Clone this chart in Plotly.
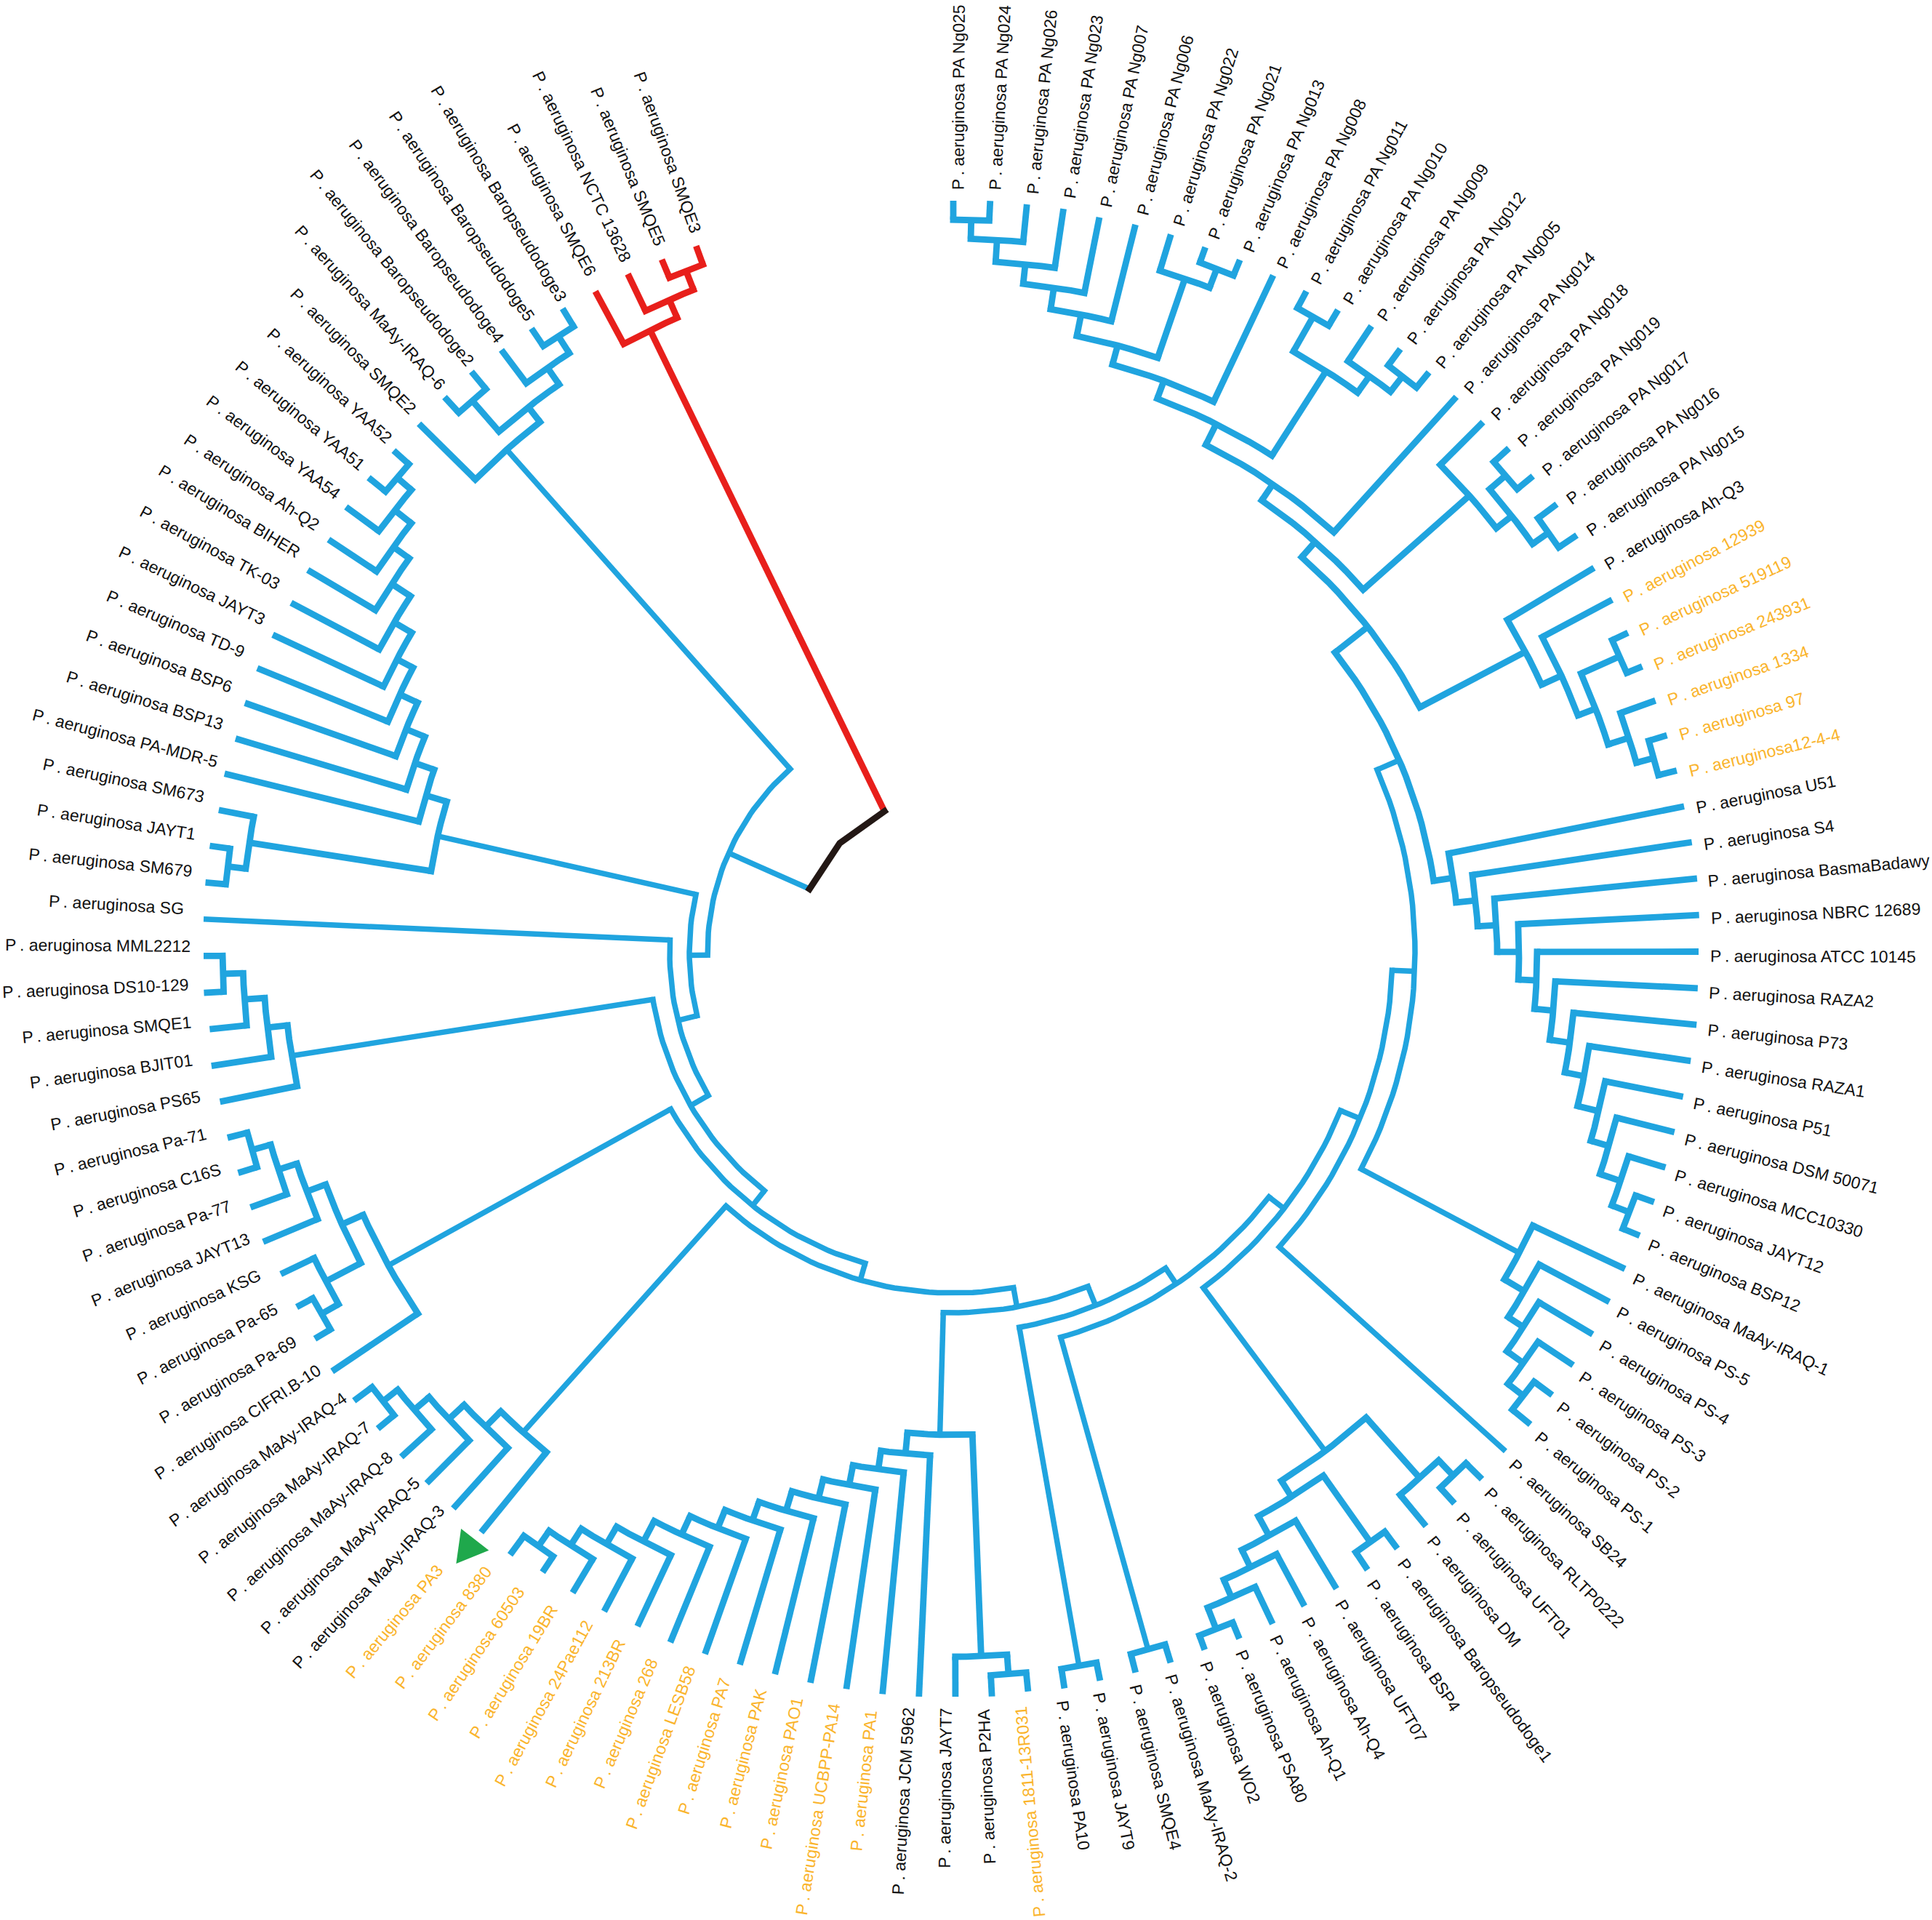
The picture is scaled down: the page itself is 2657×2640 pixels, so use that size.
import math
import plotly.graph_objects as go

CENTER_X = 1311
CENTER_Y = 1310
START_ANGLE = -90.0
TIP_STEP = 340.0 / 121

TIP_KEYS = [
    "PA Ng025", "PA Ng024", "PA Ng026", "PA Ng023", "PA Ng007", "PA Ng006", "PA Ng022", "PA Ng021",
    "PA Ng013", "PA Ng008", "PA Ng011", "PA Ng010", "PA Ng009", "PA Ng012", "PA Ng005", "PA Ng014",
    "PA Ng018", "PA Ng019", "PA Ng017", "PA Ng016", "PA Ng015", "Ah-Q3", "12939", "519119", "243931",
    "1334", "97", "12-4-4", "U51", "S4", "BasmaBadawy", "NBRC 12689", "ATCC 10145", "RAZA2", "P73",
    "RAZA1", "P51", "DSM 50071", "MCC10330", "JAYT12", "BSP12", "MaAy-IRAQ-1", "PS-5", "PS-4", "PS-3",
    "PS-2", "PS-1", "SB24", "RLTP0222", "UFT01", "DM", "Baropseudodoge1", "BSP4", "UFT07", "Ah-Q4",
    "Ah-Q1", "PSA80", "WO2", "MaAy-IRAQ-2", "SMQE4", "JAYT9", "PA10", "1811-13R031", "P2HA", "JAYT7",
    "JCM 5962", "PA1", "UCBPP-PA14", "PAO1", "PAK", "PA7", "LESB58", "268", "213BR", "24Pae112", "19BR",
    "60503", "8380", "PA3", "MaAy-IRAQ-3", "MaAy-IRAQ-5", "MaAy-IRAQ-8", "MaAy-IRAQ-7", "MaAy-IRAQ-4",
    "CIFRI.B-10", "Pa-69", "Pa-65", "KSG", "JAYT13", "Pa-77", "C16S", "Pa-71", "PS65", "BJIT01", "SMQE1",
    "DS10-129", "MML2212", "SG", "SM679", "JAYT1", "SM673", "PA-MDR-5", "BSP13", "BSP6", "TD-9", "JAYT3",
    "TK-03", "BIHER", "Ah-Q2", "YAA54", "YAA51", "YAA52", "SMQE2", "MaAy-IRAQ-6", "Baropseudodoge2",
    "Baropseudodoge4", "Baropseudodoge5", "Baropseudodoge3", "SMQE6", "NCTC 13628", "SMQE5", "SMQE3",
]
TIP_RADII = [
    1034, 1035, 1034, 1034, 1031, 1032, 1032, 1030, 1031, 1030, 1031, 1030, 1036, 1033, 1032, 1031,
    1031, 1032, 1032, 1034, 1032, 1028, 1028, 1027, 1026, 1026, 1026, 1026, 1025, 1027, 1028, 1027,
    1025, 1025, 1027, 1025, 1023, 1022, 1023, 1023, 1021, 1021, 1022, 1024, 1024, 1024, 1025, 1023,
    1026, 1024, 1022, 1022, 1022, 1021, 1020, 1022, 1022, 1019, 1021, 1021, 1021, 1023, 1021, 1024,
    1023, 1024, 1024, 1023, 1023, 1022, 1022, 1023, 1025, 1023, 1025, 1024, 1022, 1028, 1028, 1028,
    1028, 1028, 1027, 1029, 1030, 1026, 1026, 1025, 1029, 1028, 1029, 1030, 1029, 1032, 1028, 1032,
    1031, 1032, 1033, 1033, 1029, 1032, 1030, 1033, 1034, 1033, 1030, 1032, 1030, 1036, 1036, 1034,
    1034, 1036, 1038, 1036, 1036, 1036, 1034, 1035, 1034, 1034,
]
# Distance from a tip to the near end of its label.
LABEL_GAPS = [
    14, 14, 14, 14, 14, 14, 14, 14, 14, 14, 14, 14, 14, 14, 14, 14,
    14, 14, 14, 14, 14, 14, 15, 15, 15, 15, 15, 15, 15, 15, 13, 15,
    15, 15, 15, 15, 15, 15, 15, 15, 15, 15, 15, 15, 15, 15, 15, 15,
    15, 15, 15, 15, 15, 15, 15, 15, 15, 15, 15, 15, 15, 15, 18, 15,
    15, 14, 22, 20, 22, 22, 22, 22, 30, 26, 21, 28, 34, 32, 71, 9,
    5, 8, 5, 5, 11, 23, 24, 24, 15, 25, 21, 27, 24, 23, 24, 19,
    17, 27, 18, 21, 22, 12, 21, 23, 23, 18, 25, 21, 21, 16, 15, 13,
    16, 10, 8, 9, 10, 9, 22, 16, 18, 17,
]
YELLOW_TIPS = [
    "12939", "519119", "243931", "1334", "97", "12-4-4", "1811-13R031", "PA1", "UCBPP-PA14", "PAO1",
    "PAK", "PA7", "LESB58", "268", "213BR", "24Pae112", "19BR", "60503", "8380", "PA3",
]

# Tree: (node radius, first child, second child); a string is a tip.
NG_LOWER = (812,
    (838, (865, (895, (925, (952, (982, (1008, "PA Ng025", "PA Ng024"), "PA Ng026"), "PA Ng023"), "PA Ng007"), "PA Ng006"),
           (980, "PA Ng022", (1008, "PA Ng021", "PA Ng013"))), "PA Ng008"),
    (950, (1005, "PA Ng011", "PA Ng010"), (978, "PA Ng009", (1005, "PA Ng012", "PA Ng005"))))
NG_CLADE = (753, (780, NG_LOWER, "PA Ng014"),
    (948, "PA Ng018", (975, (1004, "PA Ng019", "PA Ng017"), (1002, "PA Ng016", "PA Ng015"))))
YELLOW_CLADE = (889, "Ah-Q3", (919, "12939", (945, (1003, "519119", "243931"), (975, "1334", (1000, "97", "12-4-4")))))
U51_CLADE = (695, "U51", (722, "S4", (748, "BasmaBadawy", (778, "NBRC 12689", (803, "ATCC 10145", (829, "RAZA2",
    (857, "P73", (884, "RAZA1", (914, "P51", (940, "DSM 50071", (970, "MCC10330", (996, "JAYT12", "BSP12"))))))))))))
PS_CLADE = (881, "MaAy-IRAQ-1", (913, "PS-5", (938, "PS-4", (966, "PS-3", (993, "PS-2", "PS-1")))))
UPPER_RIGHT = (604, (635, (668, (725, NG_CLADE, YELLOW_CLADE), U51_CLADE), PS_CLADE), "SB24")
Q_CLADE = (855, (966, (995, "RLTP0222", "UFT01"), "DM"),
    (881, (993, "Baropseudodoge1", "BSP4"),
     (912, "UFT07", (939, "Ah-Q4", (966, "Ah-Q1", (998, "PSA80", "WO2"))))))
RIGHT_SIDE = (523, (549, (575, UPPER_RIGHT, Q_CLADE), (995, "MaAy-IRAQ-2", "SMQE4")), (996, "JAYT9", "PA10"))
JCM_CLADE = (692, "JCM 5962", (718, "PA1", (746, "UCBPP-PA14", (773, "PAO1", (801, "PAK", (828, "PA7", (855, "LESB58",
    (883, "268", (915, "213BR", (943, "24Pae112", (970, "19BR", (996, "60503", "8380"))))))))))))
BOTTOM = (663, (968, (995, "1811-13R031", "P2HA"), "JAYT7"), JCM_CLADE)
PA3_CLADE = (886, "PA3", (916, "MaAy-IRAQ-3", (945, "MaAy-IRAQ-5", (972, "MaAy-IRAQ-8", (998, "MaAy-IRAQ-7", "MaAy-IRAQ-4")))))
CIFRI_CLADE = (888, "CIFRI.B-10", (920, (974, (1001, "Pa-69", "Pa-65"), "KSG"),
    (948, "JAYT13", (975, "Pa-77", (1002, "C16S", "Pa-71")))))
PS65_CLADE = (921, "PS65", (949, "BJIT01", (977, "SMQE1", (1005, "DS10-129", "MML2212"))))
LOWER_LEFT = (390, (418, (444, (468, (495, RIGHT_SIDE, BOTTOM), PA3_CLADE), CIFRI_CLADE), PS65_CLADE), "SG")
SM_CLADE = (727, (980, (1005, "SM679", "JAYT1"), "SM673"),
    (757, "PA-MDR-5", (785, "BSP13", (813, "BSP6", (840, "TD-9", (865, "JAYT3", (893, "TK-03", (924, "BIHER",
     (951, "Ah-Q2", (980, "YAA54", (1006, "YAA51", "YAA52")))))))))))
TOP_LEFT = (925, "SMQE2", (951, (1007, "MaAy-IRAQ-6", "Baropseudodoge2"),
    (979, "Baropseudodoge4", (1007, "Baropseudodoge5", "Baropseudodoge3"))))
BLUE_ROOT = (338, (363, LOWER_LEFT, SM_CLADE), TOP_LEFT)
RED_ROOT = (952, "SMQE6", (979, "NCTC 13628", (1007, "SMQE5", "SMQE3")))
ROOT_RADIUS = 217

BLUE = "#20A4DF"
RED = "#E81F1B"
DARK = "#231815"
YELLOW = "#FAB42C"
GREEN = "#1FA84C"
LABEL_COLOR = "#111111"
WIDE_LINE = 8.8
THIN_LINE = 7.5
WIDE_FROM_RADIUS = 650
FONT_SIZE = 23
TEXT_BOX_H = 27
LAST_OUTWARD_INDEX = 61
FIRST_TOP_LEFT_INDEX = 108
LABEL_TURN_OUTWARD = 0.3
LABEL_TURN_INWARD = 0.7
LABEL_TURN_TOP_LEFT = 0.35
MARKER_OFFSET = 27
MARKER_SIZE = 28

tip_index = {k: i for i, k in enumerate(TIP_KEYS)}
tip_radius = dict(zip(TIP_KEYS, TIP_RADII))


def tip_angle(key):
    return START_ANGLE + tip_index[key] * TIP_STEP


def px(r, a):
    t = math.radians(a)
    return CENTER_X + r * math.cos(t), CENTER_Y + r * math.sin(t)


segs = {}


def add_line(color, width, pts):
    xs, ys = segs.setdefault((color, width), ([], []))
    for p in pts:
        xs.append(p[0])
        ys.append(p[1])
    xs.append(None)
    ys.append(None)


def add_arc(color, width, r, a0, a1, n=None):
    ext = math.degrees((width / 2) / r)
    lo, hi = min(a0, a1) - ext, max(a0, a1) + ext
    n = n or max(2, int((hi - lo) / 1.5) + 1)
    add_line(color, width, [px(r, lo + (hi - lo) * i / n) for i in range(n + 1)])


def node_radius(n):
    return tip_radius[n] if isinstance(n, str) else n[0]


def layout_node(n, color):
    if isinstance(n, str):
        return tip_angle(n)
    r, a, b = n
    aa = layout_node(a, color)
    ab = layout_node(b, color)
    width = WIDE_LINE if r >= WIDE_FROM_RADIUS else THIN_LINE
    add_arc(color, width, r, aa, ab)
    add_line(color, width, [px(r, aa), px(node_radius(a), aa)])
    add_line(color, width, [px(r, ab), px(node_radius(b), ab)])
    return (aa + ab) / 2


a_blue = layout_node(BLUE_ROOT, BLUE)
a_red = layout_node(RED_ROOT, RED)
add_line(BLUE, THIN_LINE, [px(ROOT_RADIUS, a_blue), px(BLUE_ROOT[0], a_blue)])
add_line(RED, WIDE_LINE, [px(ROOT_RADIUS, a_red), px(RED_ROOT[0], a_red)])
add_arc(DARK, WIDE_LINE, ROOT_RADIUS, a_blue, a_red, n=2)

fig = go.Figure()
for (color, width), (xs, ys) in segs.items():
    fig.add_trace(go.Scatter(x=xs, y=ys, mode="lines", hoverinfo="skip", showlegend=False,
                             line=dict(color=color, width=width, shape="linear")))

# green triangle between the PA3 tip and its label
pa3 = tip_angle("PA3")
cx, cy = px(tip_radius["PA3"] + MARKER_OFFSET, pa3)
tri = [(cx + MARKER_SIZE * math.cos(math.radians(a)), cy + MARKER_SIZE * math.sin(math.radians(a)))
       for a in (8, 128, 248, 8)]
fig.add_trace(go.Scatter(x=[p[0] for p in tri], y=[p[1] for p in tri], mode="lines", fill="toself",
                         fillcolor=GREEN, line=dict(color=GREEN, width=0), hoverinfo="skip", showlegend=False))

annotations = []
for i, key in enumerate(TIP_KEYS):
    outward = i <= LAST_OUTWARD_INDEX
    if outward:
        turn = LABEL_TURN_OUTWARD
    elif i < FIRST_TOP_LEFT_INDEX:
        turn = LABEL_TURN_INWARD
    else:
        turn = LABEL_TURN_TOP_LEFT
    a = tip_angle(key) + turn
    sx, sy = px(tip_radius[key] + LABEL_GAPS[i], a)
    ux, uy = math.cos(math.radians(a)), math.sin(math.radians(a))
    hx = TEXT_BOX_H / 2 * abs(uy)
    hy = TEXT_BOX_H / 2 * abs(ux)
    prefix = "P\u2009. aeruginosa"
    text = (prefix + key) if key == "12-4-4" else (prefix + " " + key)
    annotations.append(dict(
        x=sx - hx if ux > 0 else sx + hx, y=sy - hy if uy > 0 else sy + hy,
        xref="x", yref="y", text=text, showarrow=False, borderpad=0,
        textangle=a if outward else a - 180,
        xanchor="left" if ux > 0 else "right", yanchor="top" if uy > 0 else "bottom",
        font=dict(family="Liberation Sans, Arial, sans-serif", size=FONT_SIZE,
                  color=YELLOW if key in YELLOW_TIPS else LABEL_COLOR),
    ))

fig.update_layout(
    width=2657, height=2640, autosize=False, margin=dict(l=0, r=0, t=0, b=0),
    paper_bgcolor="white", plot_bgcolor="white", showlegend=False, annotations=annotations,
    xaxis=dict(range=[0, 2657], visible=False, fixedrange=True),
    yaxis=dict(range=[2640, 0], visible=False, fixedrange=True),
)
fig.write_html("out.html", config={"displayModeBar": False},
               post_script="document.body.style.margin='0';document.documentElement.style.overflow='hidden';")
